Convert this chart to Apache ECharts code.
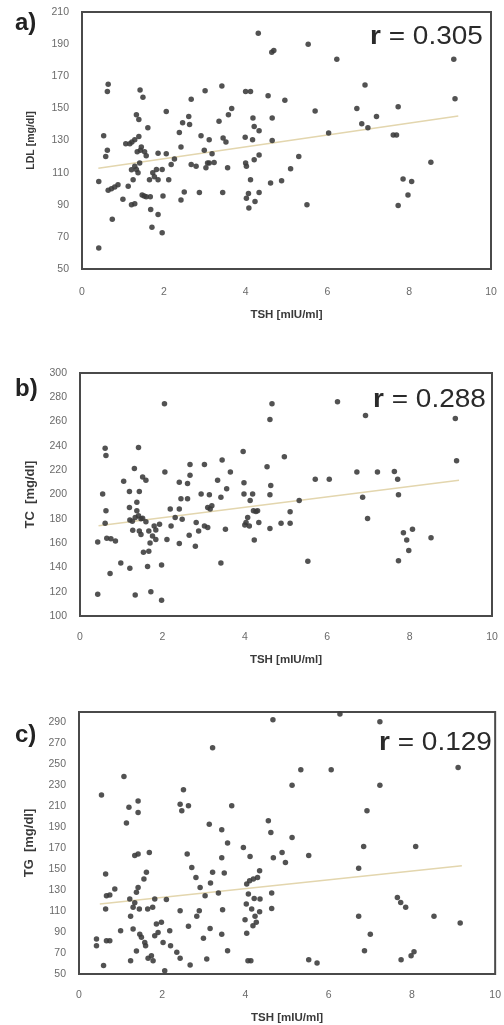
<!DOCTYPE html>
<html>
<head>
<meta charset="utf-8">
<script src="https://cdn.jsdelivr.net/npm/echarts@6/dist/echarts.min.js"></script>
<style>
  html, body { margin: 0; padding: 0; background: #fff; }
  #chart { width: 504px; height: 1025px; }
</style>
</head>
<body>
<div id="chart"></div>
<script>
// TSH [mIU/ml] vs. LDL / TC / TG [mg/dl]
const ldlPoints = [
  [0.41,104.5],[0.41,63],[0.53,133],[0.58,120],[0.62,124],[0.64,165],[0.62,160.5],[0.64,99],
  [0.72,100],[0.80,101],[0.88,102.5],[0.74,81],[1.0,93.5],[1.07,128],[1.13,101.5],[1.17,128],
  [1.22,129],[1.21,90],[1.29,90.6],[1.33,146],[1.29,130.4],[1.25,105.5],[1.29,114],[1.33,112],
  [1.37,110],[1.41,116],[1.39,132.5],[1.42,161.5],[1.49,157],[1.39,143],[1.45,126],[1.53,123],
  [1.57,120.5],[1.61,138],[1.47,96],[1.57,95],[1.67,95],[1.68,87],[1.71,76],[1.65,105.5],
  [1.73,110],[1.77,107.5],[1.82,112],[1.86,105.5],[1.86,122],[1.86,84],[1.96,112],[1.96,72.5],
  [1.98,95.5],[2.06,121.7],[2.06,148],[2.12,105.5],[2.18,115],[2.26,118.5],[2.38,135],[2.42,93],
  [2.42,126],[2.46,141],[2.50,98],[2.61,145],[2.63,140],[2.67,155.7],[2.67,115],[2.79,114],
  [2.87,97.7],[2.91,133],[2.99,124],[3.01,161],[3.03,113],[3.07,116],[3.11,130.4],[3.11,116],
  [3.18,121.7],[3.23,116.3],[3.35,142],[3.42,164],[3.44,97.7],[3.45,131.5],[3.52,129],[3.56,113],
  [3.58,146],[3.66,150],[4.0,160.5],[4.12,160.5],[3.99,132],[4.0,116],[4.02,94],[4.07,97],
  [4.08,88],[4.12,105.5],[4.17,130.4],[4.18,144],[4.21,138.7],[4.21,118],[4.23,92],[4.31,196.7],
  [4.33,121],[4.33,136],[4.33,97.7],[4.55,157.8],[4.61,103.5],[4.64,185],[4.69,186],[4.65,144],
  [4.65,130],[4.88,105],[4.96,155],[5.1,112.4],[5.3,120],[5.5,90],[5.53,190],[5.7,148.4],
  [6.03,134.6],[6.23,180.6],[6.72,150],[6.84,140.4],[6.92,164.6],[6.99,138],[7.2,145],[7.61,133.5],
  [7.69,133.5],[7.73,151],[7.73,89.6],[7.85,106],[7.97,96],[8.06,104.5],[8.53,116.5],[9.09,180.6],
  [9.12,156],[1.21,111.8],[1.35,123],[1.52,95.5],[4.02,114],[1.43,124]
];
const tcPoints = [
  [0.43,161],[0.43,118],[0.55,200.5],[0.61,238],[0.63,232],[0.63,186.7],[0.61,176.4],[0.65,164],
  [0.75,163.6],[0.86,161.7],[0.73,135],[0.99,143.6],[1.06,211],[1.21,139.4],[1.2,202.5],[1.2,189.4],
  [1.21,179],[1.28,170.5],[1.32,221.4],[1.34,117.2],[1.34,181],[1.38,193.6],[1.38,186.7],[1.42,238.6],
  [1.44,202.5],[1.42,182.5],[1.48,180],[1.44,170],[1.48,167],[1.52,214.4],[1.6,211.7],[1.54,152.5],
  [1.67,153.3],[1.6,177.5],[1.64,140.8],[1.67,170],[1.72,120],[1.76,165.8],[1.8,174],[1.84,163],
  [1.84,170.8],[1.93,175.5],[1.98,113],[1.98,142],[2.05,274.7],[2.06,218.6],[2.11,163],[2.19,188],
  [2.21,174],[2.31,181],[2.41,159.7],[2.41,210],[2.41,188],[2.48,179.7],[2.45,196.4],[2.61,196.4],
  [2.61,209],[2.67,224.7],[2.67,215.8],[2.65,166.4],[2.8,157.5],[2.82,177],[2.88,170],[2.94,200.5],
  [3.02,224.7],[3.02,174],[3.1,172.8],[3.1,189.4],[3.14,199.7],[3.2,190.8],[3.34,211.7],[3.42,197.8],
  [3.45,228.3],[3.42,143.6],[3.53,171.4],[3.56,204.7],[3.65,218.6],[3.96,235.3],[3.98,209.7],[3.98,200.5],
  [4.03,177],[4.07,181],[4.11,174],[4.13,195],[4.19,200.5],[4.21,186.7],[4.23,162.5],[4.31,186.7],
  [4.34,177],[4.54,222.8],[4.61,261.7],[4.66,274.7],[4.61,199.7],[4.63,207.5],[4.61,172],[4.88,176.4],
  [4.96,231],[5.1,176.4],[5.1,185.8],[5.32,195],[5.53,145],[5.71,212.5],[6.05,212.5],[6.25,276.4],
  [6.72,218.6],[6.86,197.8],[6.93,265],[6.98,180.3],[7.22,218.6],[7.63,219],[7.71,212.5],[7.73,199.7],
  [7.73,145.5],[7.85,168.6],[7.93,162.5],[7.98,154],[8.07,171.4],[8.52,164.4],[9.11,262.5],[9.14,227.8],
  [1.27,178],[1.52,180.5],[1.7,160],[3.16,188],[4.0,175],[4.27,186]
];
const tgPoints = [
  [0.42,83.4],[0.42,77],[0.54,220.7],[0.59,58],[0.64,145.4],[0.64,112],[0.66,124.7],[0.74,125.3],
  [0.66,81.8],[0.74,81.8],[0.86,131],[1.0,91.3],[1.08,238.5],[1.14,194],[1.2,209],[1.22,121.5],
  [1.24,105],[1.24,62.7],[1.3,93],[1.3,113.6],[1.34,163],[1.38,128],[1.38,72],[1.42,215],
  [1.42,204],[1.42,164.4],[1.42,132.6],[1.45,112],[1.46,88],[1.5,85],[1.56,140.6],[1.6,77],
  [1.62,147],[1.65,112],[1.66,65],[1.69,166],[1.74,67.5],[1.77,113.6],[1.78,62.7],[1.82,121.5],
  [1.82,86.5],[1.86,97.7],[1.9,89.7],[1.98,99.3],[2.02,80],[2.06,53],[2.1,121],[2.18,91.3],
  [2.2,77],[2.35,70.7],[2.43,65],[2.43,110.4],[2.43,212],[2.47,205.7],[2.51,225.8],[2.63,210.5],
  [2.6,164.4],[2.63,95.5],[2.67,58.6],[2.71,151.7],[2.81,142],[2.83,105],[2.89,110.4],[2.91,132.6],
  [2.99,84],[3.03,124.7],[3.07,64.3],[3.13,193],[3.15,93.5],[3.16,136.8],[3.21,147],[3.21,266],
  [3.35,127.2],[3.43,187.6],[3.43,161],[3.43,88],[3.45,111.3],[3.49,146.3],[3.57,175],[3.57,72.2],
  [3.67,210.5],[3.95,170.8],[3.99,101.8],[4.02,116.7],[4.03,135.8],[4.03,89],[4.07,126.3],[4.1,139],
  [4.11,162.2],[4.13,62.7],[4.15,112],[4.18,96],[4.19,140.6],[4.21,122],[4.23,105],[4.26,99.3],
  [4.29,142],[4.34,148.5],[4.34,109.4],[4.35,121.5],[4.55,196.2],[4.61,185],[4.66,292.5],[4.63,127.2],
  [4.63,112.6],[4.67,161],[4.88,166],[4.96,156.5],[5.12,180.3],[5.12,230.2],[5.33,245],[5.52,163],
  [5.52,63.7],[5.72,60.5],[6.06,245],[6.27,298],[6.72,150.8],[6.72,105],[6.84,171.7],[6.86,72.2],
  [6.92,205.7],[7.0,88],[7.23,290.6],[7.23,230.2],[7.65,123],[7.73,118.3],[7.85,113.6],[7.74,63.7],
  [7.98,67.5],[8.05,71.3],[8.09,171.7],[8.53,105],[9.11,247],[9.16,98.6],
  [1.58,80],[4.06,62.7],[1.34,118]
];
// regression lines (end points)
const ldlTrend = [[0.4, 112.7], [9.2, 145.3]];
const tcTrend = [[0.45, 174.2], [9.2, 211.7]];
const tgTrend = [[0.5, 116.8], [9.2, 153.3]];

const xTicks = [0, 2, 4, 6, 8, 10];
const ldlTicks = [50, 70, 90, 110, 130, 150, 170, 190, 210];
const tcTicks = [100, 120, 140, 160, 180, 200, 220, 240, 260, 280, 300];
const tgTicks = [50, 70, 90, 110, 130, 150, 170, 190, 210, 230, 250, 270, 290];

const panels = [
  { tag: 'a)', r: '0.305', yName: 'LDL [mg/dl]', yNameSize: 10.5, yGap: 45, yMin: 50, yMax: 210, yTicks: ldlTicks,
    pts: ldlPoints, trend: ldlTrend,
    grid: { left: 82, top: 12, width: 409, height: 257 }, tagY: 25, rX: 370, rY: 37 },
  { tag: 'b)', r: '0.288', yName: 'TC  [mg/dl]', yNameSize: 13, yGap: 43, yMin: 100, yMax: 300, yTicks: tcTicks,
    pts: tcPoints, trend: tcTrend,
    grid: { left: 80, top: 373, width: 412, height: 243 }, tagY: 391, rX: 373, rY: 400 },
  { tag: 'c)', r: '0.129', yName: 'TG  [mg/dl]', yNameSize: 13, yGap: 43, yMin: 50, yMax: 300, yTicks: tgTicks,
    pts: tgPoints, trend: tgTrend,
    grid: { left: 79, top: 712, width: 417, height: 262 }, tagY: 737, rX: 379, rY: 743 },
];

const labelFont = '"Liberation Sans", Arial, sans-serif';

const option = {
  animation: false,
  backgroundColor: '#fff',
  grid: panels.map((p) => ({
    ...p.grid, show: true, borderColor: '#4a4a4a', borderWidth: 2, backgroundColor: '#fff',
  })),
  xAxis: panels.map((p, i) => ({
    type: 'value', gridIndex: i, min: 0, max: 10, interval: 2,
    name: 'TSH [mIU/ml]', nameLocation: 'middle', nameGap: i === 0 ? 40 : 38,
    nameTextStyle: { fontSize: 11.5, fontWeight: 'bold', color: '#3a3a3a', fontFamily: labelFont },
    axisLine: { show: false }, axisTick: { show: false }, splitLine: { show: false },
    axisLabel: {
      customValues: xTicks, margin: i === 0 ? 18 : 16,
      fontSize: 10.5, color: '#6a6a6a', fontFamily: labelFont,
    },
  })),
  yAxis: panels.map((p, i) => ({
    type: 'value', gridIndex: i, min: p.yMin, max: p.yMax,
    name: p.yName, nameLocation: 'middle', nameGap: p.yGap,
    nameTextStyle: { fontSize: p.yNameSize, fontWeight: 'bold', color: '#3a3a3a', fontFamily: labelFont },
    axisLine: { show: false }, axisTick: { show: false }, splitLine: { show: false },
    axisLabel: {
      customValues: p.yTicks, margin: 13,
      fontSize: 10.5, color: '#6a6a6a', fontFamily: labelFont,
    },
  })),
  series: panels.flatMap((p, i) => [
    {
      type: 'line', xAxisIndex: i, yAxisIndex: i, data: p.trend,
      symbol: 'none', silent: true, z: 1,
      lineStyle: { color: '#e3d6ae', width: 1.5 },
    },
    {
      type: 'scatter', xAxisIndex: i, yAxisIndex: i, data: p.pts,
      symbolSize: 5.5, z: 2,
      itemStyle: { color: '#3a3a3a', opacity: 0.88 },
    },
  ]),
  graphic: panels.flatMap((p) => [
    {
      type: 'text', left: 15, top: p.tagY - 14,
      style: { text: p.tag, fontSize: 24, fontWeight: 'bold', fill: '#222', fontFamily: labelFont },
    },
    {
      type: 'text', x: p.rX, y: p.rY, scaleX: 1.12,
      style: {
        text: '{r|r} = ' + p.r, fontSize: 25, fill: '#2a2a2a', verticalAlign: 'middle',
        fontFamily: labelFont,
        rich: {
          r: { fontSize: 25, fontWeight: 'bold', fill: '#2a2a2a' },
        },
      },
    },
  ]),
};

const chart = echarts.init(document.getElementById('chart'));
chart.setOption(option);
</script>
</body>
</html>
